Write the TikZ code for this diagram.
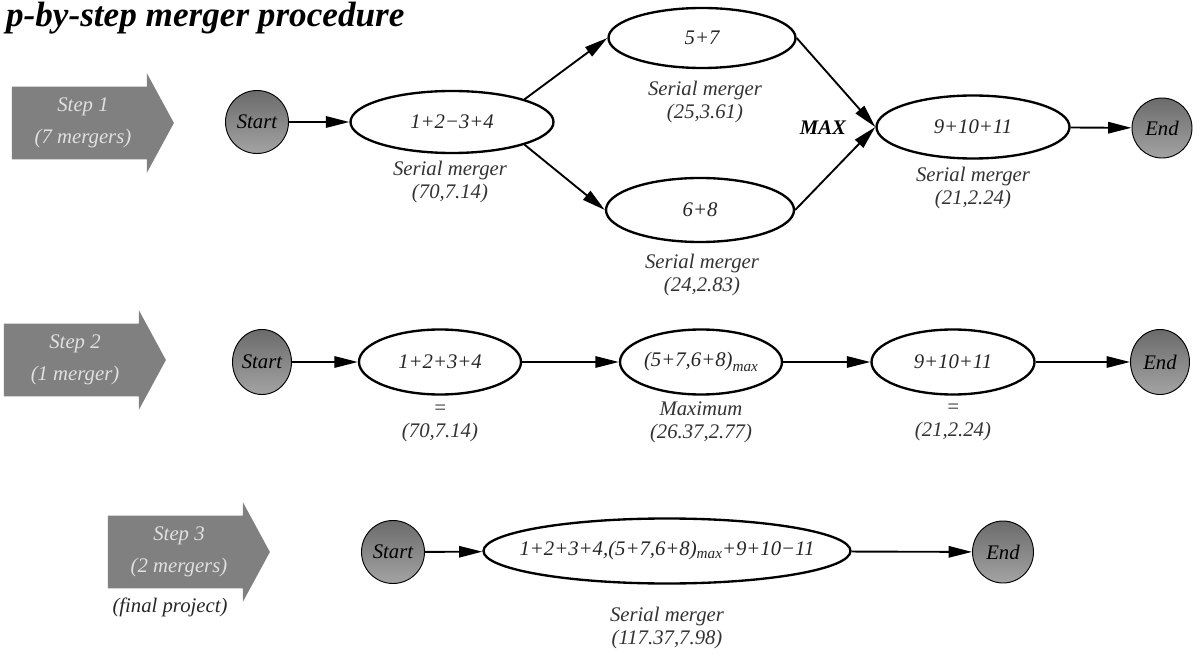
\documentclass[tikz,border=0pt]{standalone}
\usepackage{fontspec}
\setmainfont{Liberation Serif}
\usetikzlibrary{arrows.meta,shapes,positioning}
\tikzset{%
	>={Triangle[length=0.7cm,width=0.34cm]},
	merger/.style={ellipse, draw=black, line width=2pt, inner sep=0pt, font=\itshape, text=black!85},
	terminal/.style={ellipse, draw=black, line width=0.8pt, top color=black!58, bottom color=black!36, inner sep=0pt, font=\itshape},
	stepbox/.style={single arrow, fill=black!50, text=white!88!black, font=\itshape, align=center,
		minimum height=4.86cm, single arrow head extend=0.405cm, single arrow tip angle=123,
		inner xsep=0pt, inner ysep=0.33cm},
	remark/.style={align=center, font=\itshape, text=black!80},
	conn/.style={->, line width=1.6pt}
}
\newcommand{\submax}[1]{\raisebox{-#1}{\fontsize{13}{13}\selectfont max}}

\begin{document}
\fontsize{17.7}{19.6}\selectfont
\begin{tikzpicture}[x=0.03cm, y=-0.03cm]
\useasboundingbox (0,0) rectangle (1197,655);

\node (title) [anchor=base west, font=\bfseries\itshape\fontsize{30}{36}\selectfont] at (-1,27) {p-by-step merger procedure};

% step 1
\node (step1) [stepbox] at (83,123) {Step 1\\[8pt](7 mergers)};
\node (start1) [terminal, minimum size=1.89cm] at (257,122) {Start};
\node (e1a) [merger, minimum width=6.09cm, minimum height=1.86cm] at (452,122) {1+2−3+4};
\node (e57) [merger, minimum width=5.61cm, minimum height=1.8cm] at (702,38) {5+7};
\node (e68) [merger, minimum width=5.64cm, minimum height=1.92cm] at (700,210) {6+8};
\node (e91) [merger, minimum width=5.79cm, minimum height=1.89cm] at (973,127) {9+10+11};
\node (end1) [terminal, minimum size=1.8cm] at (1162,128) {End};
\node (maxlbl) [font=\bfseries\itshape] at (823,128) {MAX};
\node (l1a) [remark] at (450,182) {Serial merger\\(70,7.14)};
\node (l57) [remark] at (705,102) {Serial merger\\(25,3.61)};
\node (l68) [remark] at (702,275) {Serial merger\\(24,2.83)};
\node (l91) [remark] at (973,188) {Serial merger\\(21,2.24)};

\draw[conn] (start1) -- (e1a);
\draw[conn] (e1a.north east) -- (e57.west);
\draw[conn] (e1a.south east) -- (e68.west);
\draw[conn] (e57.east) -- (e91.west);
\draw[conn] (e68.east) -- (e91.west);
\draw[conn] (e91) -- (end1);

% step 2
\node (step2) [stepbox] at (75,360) {Step 2\\[8pt](1 merger)};
\node (start2) [terminal, minimum width=1.77cm, minimum height=1.95cm] at (262,362) {Start};
\node (e1b) [merger, minimum width=4.86cm, minimum height=1.95cm] at (440,362) {1+2+3+4};
\node (e2b) [merger, minimum width=4.86cm, minimum height=1.95cm] at (701,362) {(5+7,6+8)\submax{0.5ex}};
\node (e3b) [merger, minimum width=4.89cm, minimum height=1.95cm] at (953,362) {9+10+11};
\node (end2) [terminal, minimum width=1.77cm, minimum height=1.95cm] at (1160,362) {End};
\node (l1b) [remark] at (440,423) {=\\(70,7.14)};
\node (l2b) [remark] at (701,422) {Maximum\\(26.37,2.77)};
\node (l3b) [remark] at (953,422) {=\\(21,2.24)};

\draw[conn] (start2) -- (e1b);
\draw[conn] (e1b) -- (e2b);
\draw[conn] (e2b) -- (e3b);
\draw[conn] (e3b) -- (end2);

% step 3
\node (step3) [stepbox] at (179,552) {Step 3\\[8pt](2 mergers)};
\node (final) [remark, text=black!85] at (170,607) {(final project)};
\node (start3) [terminal, minimum size=1.89cm] at (393,552) {Start};
\node (e3c) [merger, inner xsep=-0.8cm, minimum width=11.01cm, minimum height=1.95cm] at (667,551) {1+2+3+4,(5+7,6+8)\submax{0.25ex}+9+10−11};
\node (end3) [terminal, minimum width=1.83cm, minimum height=1.86cm] at (1003,552) {End};
\node (l3c) [remark] at (667,628) {Serial merger\\(117.37,7.98)};

\draw[conn] (start3) -- (e3c);
\draw[conn] (e3c) -- (end3);

\end{tikzpicture}
\end{document}
